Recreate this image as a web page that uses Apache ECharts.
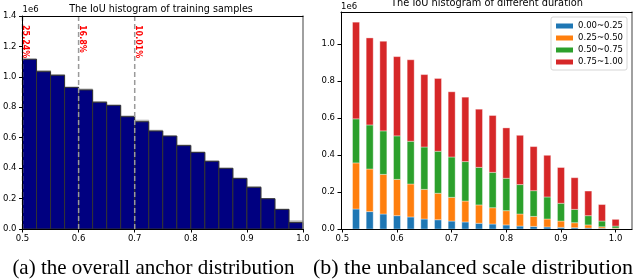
<!DOCTYPE html>
<html><head><meta charset="utf-8">
<script src="https://cdn.jsdelivr.net/npm/echarts@6/dist/echarts.min.js"></script>
<style>html,body{margin:0;padding:0;background:#fff;}#c{width:638px;height:280px;}</style>
</head><body><div id="c"></div>
<script>
// ---- Left panel: overall anchor IoU histogram (values in 1e6) ----
const binStarts = [0.5,0.525,0.55,0.575,0.6,0.625,0.65,0.675,0.7,0.725,0.75,0.775,0.8,0.825,0.85,0.875,0.9,0.925,0.95,0.975];
const binWidth = 0.025;
const overallCounts = [1.116,1.034,1.010,0.931,0.914,0.833,0.813,0.738,0.705,0.644,0.611,0.548,0.504,0.445,0.399,0.333,0.274,0.199,0.129,0.042];
const shadowCounts  = [1.116,1.041,1.015,0.931,0.920,0.837,0.813,0.743,0.715,0.649,0.611,0.552,0.504,0.447,0.399,0.333,0.278,0.199,0.129,0.053];
const thresholdX = [0.5, 0.6, 0.7];
const thresholdLabels = ['25.24%', '16.8%', '10.01%'];
const leftXTicks = [0.5,0.6,0.7,0.8,0.9,1.0];
const leftYTicks = [0,0.2,0.4,0.6,0.8,1.0,1.2,1.4];

// ---- Right panel: stacked histogram by duration (values in 1e6) ----
const durCenters = [0.525,0.55,0.575,0.6,0.625,0.65,0.675,0.7,0.725,0.75,0.775,0.8,0.825,0.85,0.875,0.9,0.925,0.95,0.975,1.0];
const durNames = ['0.00~0.25','0.25~0.50','0.50~0.75','0.75~1.00'];
const durA = [0.108,0.094,0.081,0.072,0.065,0.054,0.050,0.043,0.038,0.031,0.027,0.022,0.016,0.014,0.011,0.009,0.007,0.005,0.004,0.002];
const durB = [0.249,0.230,0.214,0.196,0.178,0.160,0.143,0.128,0.113,0.099,0.088,0.077,0.065,0.054,0.043,0.034,0.027,0.017,0.008,0.003];
const durC = [0.238,0.238,0.235,0.235,0.231,0.229,0.227,0.218,0.213,0.203,0.191,0.175,0.159,0.139,0.119,0.096,0.072,0.050,0.031,0.011];
const durD = [0.522,0.470,0.484,0.428,0.440,0.391,0.393,0.352,0.348,0.314,0.307,0.272,0.266,0.238,0.225,0.193,0.171,0.133,0.089,0.036];
const rightXTicks = [0.5,0.6,0.7,0.8,0.9,1.0];
const rightYTicks = [0,0.2,0.4,0.6,0.8,1.0];

const FONT = 'DejaVu Sans';
const colors = ['#1f77b4','#ff7f0e','#2ca02c','#d62728'];
const leftYMax = 1.4;

function fmt1(v){ return Number(v).toFixed(1); }

function mainX(gridIndex, min, max, ticks){
  return {type:'value', gridIndex, min, max, position:'bottom', z:10,
    axisLine:{show:true, onZero:false, lineStyle:{color:'#000', width:1}},
    axisTick:{show:true, length:3.5, inside:false, customValues:ticks, lineStyle:{color:'#000'}},
    axisLabel:{show:true, customValues:ticks, formatter:fmt1, fontSize:8.5, fontFamily:FONT, color:'#000', margin:5},
    splitLine:{show:false}};
}
function mainY(gridIndex, min, max, ticks, gap){
  return {type:'value', gridIndex, min, max, position:'left', z:10,
    name:'1e6', nameLocation:'end', nameGap:gap,
    nameTextStyle:{align:'left', verticalAlign:'bottom', fontSize:8.5, fontFamily:FONT, color:'#000'},
    axisLine:{show:true, onZero:false, lineStyle:{color:'#000', width:1}},
    axisTick:{show:true, length:3.5, inside:false, customValues:ticks, lineStyle:{color:'#000'}},
    axisLabel:{show:true, customValues:ticks, formatter:fmt1, fontSize:8.5, fontFamily:FONT, color:'#000', margin:6},
    splitLine:{show:false}};
}
function spineX(gridIndex, min, max, color, w){
  return {type:'value', gridIndex, min, max, position:'top', z:10,
    axisLine:{show:true, onZero:false, lineStyle:{color, width:w}},
    axisTick:{show:false}, axisLabel:{show:false}, splitLine:{show:false}};
}
function spineY(gridIndex, min, max, color, w){
  return {type:'value', gridIndex, min, max, position:'right', z:10,
    axisLine:{show:true, onZero:false, lineStyle:{color, width:w}},
    axisTick:{show:false}, axisLabel:{show:false}, splitLine:{show:false}};
}

function histRender(fill, stroke){
  return function(params, api){
    const p0 = api.coord([api.value(0), api.value(2)]);
    const p1 = api.coord([api.value(1), 0]);
    return {type:'rect',
      shape:{x:p0[0], y:p0[1], width:p1[0]-p0[0], height:p1[1]-p0[1]},
      style:{fill, stroke, lineWidth:1}};
  };
}

// stacked segments for the right panel: [center, base, top]
const durSeriesData = [];
const running = durCenters.map(()=>0);
[durA, durB, durC, durD].forEach(arr=>{
  durSeriesData.push(durCenters.map((c,i)=>{
    const base = running[i];
    running[i] = base + arr[i];
    return [c, base, running[i]];
  }));
});
const BAR_W = 7;
function stackRender(k){
  return function(params, api){
    const pTop = api.coord([api.value(0), api.value(2)]);
    const pBot = api.coord([api.value(0), api.value(1)]);
    return {type:'rect',
      shape:{x:pTop[0]-BAR_W/2, y:pTop[1], width:BAR_W, height:pBot[1]-pTop[1]},
      style:{fill:colors[k], stroke:'rgba(255,255,255,0.45)', lineWidth:0.8}};
  };
}

const chart = echarts.init(document.getElementById('c'), null, {renderer:'canvas'});
const rMinX = 0.4975, rMaxX = 1.03, rMaxY = 1.172;

const option = {
  animation:false,
  backgroundColor:'#fff',
  color:colors,
  grid:[
    {left:19, top:16, width:284, height:213},
    {left:341, top:12, width:291, height:217}
  ],
  xAxis:[
    mainX(0, 0.5, 1.0, leftXTicks),
    spineX(0, 0.5, 1.0, '#000', 1),
    mainX(1, rMinX, rMaxX, rightXTicks),
    spineX(1, rMinX, rMaxX, '#000', 1)
  ],
  yAxis:[
    mainY(0, 0, leftYMax, leftYTicks, 2),
    spineY(0, 0, leftYMax, '#808080', 1.5),
    mainY(1, 0, rMaxY, rightYTicks, 1),
    spineY(1, 0, rMaxY, '#808080', 1.5)
  ],
  legend:{
    data:durNames, orient:'vertical', right:11, top:17,
    icon:'rect', itemWidth:17, itemHeight:5, itemGap:2,
    padding:[4,4,3,5], borderColor:'#d6d6d6', borderWidth:1, borderRadius:2,
    backgroundColor:'#fff',
    textStyle:{fontSize:8.5, fontFamily:FONT, color:'#000', lineHeight:10}
  },
  graphic:[
    {type:'text', x:161, y:9, style:{text:'The IoU histogram of training samples', fill:'#000', fontSize:9.6, fontFamily:FONT, align:'center', verticalAlign:'middle'}},
    {type:'text', x:487, y:3, style:{text:'The IoU histogram of different duration', fill:'#000', fontSize:9.8, fontFamily:FONT, align:'center', verticalAlign:'middle'}},
    {type:'text', x:153.5, y:268, style:{text:'(a) the overall anchor distribution', fill:'#000', fontSize:21, fontFamily:'Liberation Serif', align:'center', verticalAlign:'middle'}},
    {type:'text', x:473, y:268, style:{text:'(b) the unbalanced scale distribution', fill:'#000', fontSize:22, fontFamily:'Liberation Serif', align:'center', verticalAlign:'middle'}}
  ],
  series:[
    {type:'custom', xAxisIndex:0, yAxisIndex:0, z:2,
      data: binStarts.map((s,i)=>[s, s+binWidth, shadowCounts[i]]),
      encode:{x:[0,1], y:2}, renderItem: histRender('#b4b4b4', '#b4b4b4')},
    {type:'custom', xAxisIndex:0, yAxisIndex:0, z:3,
      data: binStarts.map((s,i)=>[s, s+binWidth, overallCounts[i]]),
      encode:{x:[0,1], y:2}, renderItem: histRender('#000080', '#333333')},
    {type:'custom', xAxisIndex:0, yAxisIndex:0, z:4,
      data: thresholdX.map(x=>[x, leftYMax]),
      encode:{x:0, y:1},
      renderItem: function(params, api){
        const top = api.coord([api.value(0), api.value(1)]);
        const bot = api.coord([api.value(0), 0]);
        return {type:'group', children:[
          {type:'line', shape:{x1:bot[0], y1:bot[1], x2:top[0], y2:top[1]},
            style:{stroke:'#9a9a9a', lineWidth:1.5, lineDash:[5,3]}},
          {type:'text', x:top[0]-1, y:top[1]+9, rotation:-Math.PI/2,
            style:{text:thresholdLabels[params.dataIndex], fill:'#ff0000', fontSize:8, fontWeight:'bold', fontFamily:FONT, align:'left', verticalAlign:'bottom'}}
        ]};
      }},
    ...durSeriesData.map((data, k)=>({
      name:durNames[k], type:'custom', xAxisIndex:2, yAxisIndex:2, z:2,
      data, encode:{x:0, y:[1,2]},
      itemStyle:{color:colors[k]},
      renderItem: stackRender(k)
    }))
  ]
};
chart.setOption(option);
</script>
</body></html>
